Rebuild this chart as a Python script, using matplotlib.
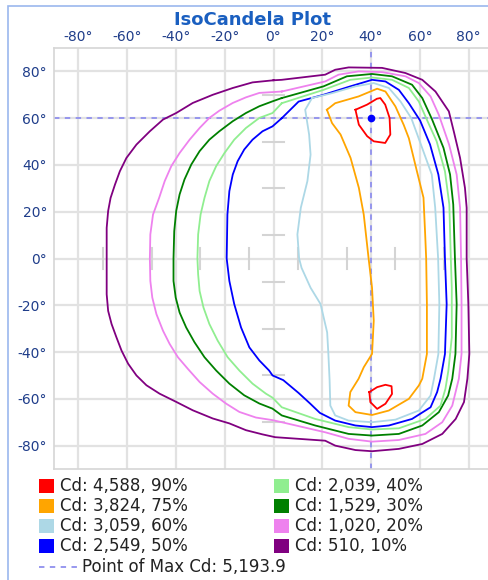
import matplotlib
matplotlib.use('Agg')
import matplotlib.pyplot as plt
from matplotlib.patches import Rectangle
from matplotlib.lines import Line2D

# isocandela contours, (horizontal deg, vertical deg)
iso_10 = [(0, 76.2), (-8.6, 75.3), (-16.7, 72.9), (-24.9, 70), (-33.1, 66.5), (-39.9, 62.2), (-45.3, 59.4),
          (-50.7, 54.4), (-56.2, 48.7), (-60.3, 43), (-63, 37.3), (-65, 31.6), (-66.8, 25.9), (-67.8, 20.3),
          (-68.4, 13.1), (-68.4, 0), (-68.4, -15.3), (-67.8, -22.4), (-66.4, -28), (-64.4, -33.7),
          (-62.3, -39.4), (-59.6, -45), (-56.2, -50), (-52.1, -54.2), (-46.7, -57.8), (-39.9, -61.3),
          (-33.1, -64.9), (-24.9, -68.4), (-18.1, -70.5), (-11.3, -73.4), (-4.5, -75.2), (0.7, -76.4),
          (21.2, -77.9), (25.3, -80), (33.6, -81.9), (40.4, -82.4), (51.4, -81.4), (61, -79.3), (69.2, -75),
          (74.7, -68.6), (78.1, -61.4), (79.5, -51.4), (80.3, -40.8), (79.9, -19.5), (79.2, 0), (79.2, 21.7),
          (78.5, 30.2), (76.5, 43), (74, 54), (71.9, 62.9), (66.4, 71.4), (61, 76.4), (54.1, 79.3),
          (44.5, 81.5), (30.8, 81.7), (25.3, 80.7), (21.2, 78.6), (3.4, 76.4), (0, 76.2)]
iso_20 = [(3.4, 71.4), (-5.8, 70.8), (-11.3, 68.9), (-16.7, 66.5), (-22.2, 63.2), (-26.3, 60.1), (-30.3, 55.8),
          (-34.4, 50.8), (-38.5, 45.1), (-41.9, 39.5), (-44.6, 33.1), (-46.9, 25.9), (-49.4, 18.8),
          (-50.5, 10.3), (-50.7, 0), (-50.5, -9.6), (-49.7, -16.7), (-48, -23.8), (-45.3, -30.9),
          (-42.6, -36.5), (-39.2, -42.2), (-35.1, -47.2), (-30.3, -52.8), (-24.9, -57.8), (-19.5, -62),
          (-14, -65.6), (-7.2, -68), (-0.4, -69.1), (3.4, -70), (21.2, -74.3), (30.8, -77.1), (40.4, -78.3),
          (51.4, -77.6), (62.3, -75), (69.2, -70), (73.3, -62.9), (76, -51.4), (77.1, -40.8), (77.1, -19.5),
          (76.9, 0), (76.5, 21.7), (75.1, 35.9), (72, 48.7), (67.8, 61.4), (64.4, 69.3), (59.6, 75),
          (54.1, 77.9), (44.5, 79.7), (34.9, 80), (26.7, 78.6), (21.2, 75.7), (3.4, 71.4)]
iso_30 = [(3.4, 68.6), (-0.4, 67.2), (-5.8, 65.1), (-11.3, 62.2), (-16.7, 58.7), (-22.2, 54.4), (-26.3, 50.8),
          (-30.3, 45.9), (-33.7, 40.2), (-36.5, 33.8), (-38.5, 27.4), (-39.9, 20.3), (-40.7, 11.7), (-41, 0),
          (-41, -9.6), (-40.1, -16.7), (-38.5, -23.1), (-35.8, -29.5), (-32.4, -35.8), (-28.3, -42.2),
          (-23.5, -47.9), (-18.1, -53.5), (-12, -58.5), (-5.8, -62), (-0.4, -64.2), (3.4, -67.1),
          (17.1, -71.4), (30.8, -75), (40.4, -75.7), (51.4, -75), (61, -71.4), (67.8, -65.7), (71.6, -58.6),
          (73.3, -51.4), (74.6, -40.8), (75.1, -19.5), (74.4, 0), (73.7, 23.1), (72.4, 35.9), (69.7, 47.3),
          (65, 59.5), (61, 68.6), (56.8, 74.3), (48.6, 77.9), (40.4, 78.9), (30.1, 77.9), (20.5, 73.6),
          (3.4, 68.6)]
iso_40 = [(3.4, 66.4), (-0.4, 62.2), (-5.8, 60.1), (-11.3, 55.8), (-16.1, 50.8), (-20.1, 45.1), (-23.5, 39.5),
          (-26.3, 33.1), (-28.3, 25.9), (-29.9, 18.8), (-30.9, 10.3), (-31.2, 0), (-30.9, -6.8),
          (-30.3, -13.9), (-28.7, -21), (-26.3, -28), (-22.9, -35.1), (-18.8, -42.2), (-14, -47.9),
          (-8.6, -53.5), (-3.1, -57.8), (-0.4, -59.5), (3.4, -63.6), (17.1, -68.6), (30.8, -72.1),
          (40.4, -73.1), (51.4, -72.6), (62.3, -68.6), (68.5, -62.9), (70.5, -55.7), (71.7, -47.9),
          (73.1, -33.7), (73.1, -12.5), (72.7, 0), (72.1, 23.1), (70.3, 37.3), (66.9, 50.1), (62.6, 60),
          (59.6, 67.1), (55.5, 72.9), (48.6, 76.4), (40.4, 77.4), (31.5, 76.4), (20.5, 72.1), (3.4, 66.4)]
iso_50 = [(3.4, 60), (-0.4, 56.5), (-4.5, 54.4), (-8.6, 50.8), (-12, 46.6), (-14.7, 41.6), (-16.7, 35.9),
          (-18.1, 28.8), (-18.9, 18.8), (-19.2, 0), (-18.1, -9.6), (-16.1, -19.5), (-13.3, -29.5),
          (-9.9, -38), (-5.8, -43.6), (-1.8, -47.9), (-0.4, -50), (4, -52), (10.3, -57.5), (15, -62),
          (19, -66), (25.3, -69.3), (33.6, -71.4), (40.4, -72.1), (47.3, -71.4), (56.8, -68.6), (64.4, -63.6),
          (67.1, -57.1), (68.5, -51.4), (70.3, -40.8), (71, -19.5), (70.3, 0), (69.7, 21.7), (67.6, 35.9),
          (64.2, 48.7), (60.1, 59), (55.5, 66.4), (51.4, 72.1), (45.9, 75.7), (40.4, 76.4), (31.5, 73.6),
          (20.5, 70), (10.3, 67.1), (3.4, 60)]
iso_60 = [(15.8, 68.6), (24, 70.7), (33.6, 73.6), (41.1, 75), (47.3, 72.9), (52.1, 67.1), (56.5, 60),
          (60, 50), (64.9, 35.9), (66.3, 21.7), (67.5, 0), (68, -19.5), (67.6, -40.8), (65.8, -51.4),
          (64.4, -58.6), (59.6, -65), (50, -68.9), (40.4, -70), (30.8, -69.3), (25.3, -67.1), (23.3, -62.9),
          (23, -52), (22.5, -40.8), (22, -31.6), (19.3, -19.5), (15.2, -12.5), (11.5, -4), (10.5, 0),
          (9.8, 10.3), (11.2, 21.7), (13.9, 33.1), (15.2, 44.4), (14.6, 53), (13, 63.6), (15.8, 68.6)]
iso_75 = [(21.9, 63.6), (25.3, 66.4), (34.9, 69.3), (42.5, 72.6), (45.9, 71.4), (50, 65), (53.4, 57.1),
          (55.5, 51.4), (58.8, 37.3), (61.5, 26), (62.2, 10), (62.6, 0), (62.9, -19.5), (62.9, -40.8),
          (61, -51.4), (59.6, -54.3), (55.5, -60), (47.3, -65), (40.4, -66.9), (33.6, -65.7), (30.8, -62.9),
          (31.5, -57.1), (34.9, -51.4), (37, -46.5), (40.4, -40.8), (41.1, -26.6), (40.4, -12.5), (39, 0),
          (37, 18.8), (35, 30.2), (31.6, 43), (27.5, 53), (24, 57.9), (21.9, 63.6)]
iso_90_top = [(33.6, 63.6), (35, 57.2), (38.4, 52.3), (41.1, 50.1), (45.8, 49.4), (47.9, 53), (47.6, 60.1),
              (45.8, 65.8), (43.8, 68.6), (42.4, 68.3), (38.4, 65.8), (33.6, 63.6)]
iso_90_bot = [(39.3, -57.1), (39.7, -61.4), (42.5, -64.3), (45.9, -62.1), (48.6, -57.9), (48.4, -54.6),
              (45.9, -54), (42.5, -55), (39.3, -57.1)]

level_labels = ['Cd: 4,588, 90%', 'Cd: 3,824, 75%', 'Cd: 3,059, 60%', 'Cd: 2,549, 50%',
                'Cd: 2,039, 40%', 'Cd: 1,529, 30%', 'Cd: 1,020, 20%', 'Cd: 510, 10%']
level_colors = ['#ff0000', '#ffa500', '#add8e6', '#0000ff', '#90ee90', '#008000', '#ee82ee', '#800080']
level_lines = [[iso_90_top, iso_90_bot], [iso_75], [iso_60], [iso_50], [iso_40], [iso_30], [iso_20], [iso_10]]

max_point = (40, 60)
max_label = 'Point of Max Cd: 5,193.9'
ticks = [-80, -60, -40, -20, 0, 20, 40, 60, 80]
minor_marks = [-70, -50, -30, -10, 10, 30, 50, 70]

W, H = 488, 580
fig = plt.figure(figsize=(W / 100, H / 100), dpi=100)

def fx(px):
    return px / W

def fy(py):
    return 1 - py / H

# outer panel frame
fig.add_artist(Rectangle((fx(8), fy(700)), fx(600), 694 / H, transform=fig.transFigure,
                         fill=False, edgecolor='#9bb8ee', lw=1.2))

ax = fig.add_axes([fx(54), fy(469), fx(493 - 54), (469 - 48) / H])
ax.set_xlim(-90, 90)
ax.set_ylim(-90, 90)
ax.set_xticks(ticks)
ax.set_yticks(ticks)
ax.set_xticklabels([f'{t}°' for t in ticks])
ax.set_yticklabels([f'{t}°' for t in ticks])
ax.xaxis.tick_top()
ax.tick_params(length=0, labelsize=10, labelcolor='#1f3d8a')
ax.tick_params(axis='x', pad=3)
ax.tick_params(axis='y', pad=5)
ax.grid(True, color='#e2e2e2', lw=1.6)
ax.set_axisbelow(True)
for s in ax.spines.values():
    s.set_color('#d6d6d6')
    s.set_linewidth(1.2)

# little marks along the center axes
for m in minor_marks:
    ax.plot([-4.5, 4.5], [m, m], color='#d4d4d4', lw=1.5, zorder=1)
    ax.plot([m, m], [-4.5, 4.5], color='#d4d4d4', lw=1.5, zorder=1)

for lines, col in zip(level_lines[::-1], level_colors[::-1]):
    for pts in lines:
        xs = [p[0] for p in pts]
        ys = [p[1] for p in pts]
        ax.plot(xs, ys, color=col, lw=1.3, zorder=3, solid_joinstyle='round')

ax.axvline(max_point[0], color='#9090ee', lw=1.3, ls=(0, (3, 3)), zorder=2)
ax.axhline(max_point[1], color='#9090ee', lw=1.3, ls=(0, (3, 3)), zorder=2)
ax.plot(*max_point, 'o', color='#0000ff', ms=4.5, zorder=4)

fig.text(fx(252), fy(20), 'IsoCandela Plot', ha='center', va='center', fontsize=13,
         fontweight='bold', color='#1a5fc0')

# legend
row_y = [486, 506, 526, 546]
col_x = [39, 274]
for i, (lab, col) in enumerate(zip(level_labels, level_colors)):
    cx = col_x[i // 4]
    cy = row_y[i % 4]
    fig.add_artist(Rectangle((fx(cx), fy(cy + 7)), fx(15), 14 / H, transform=fig.transFigure,
                             facecolor=col, edgecolor='none'))
    fig.text(fx(cx + 21), fy(cy), lab, ha='left', va='center', fontsize=12, color='#222222')

fig.add_artist(Line2D([fx(39), fx(77)], [fy(567), fy(567)], transform=fig.transFigure,
                      color='#9090ee', lw=1.3, ls=(0, (3, 3))))
fig.text(fx(82), fy(567), max_label, ha='left', va='center', fontsize=12, color='#222222')

fig.savefig('out.png', dpi=100)
